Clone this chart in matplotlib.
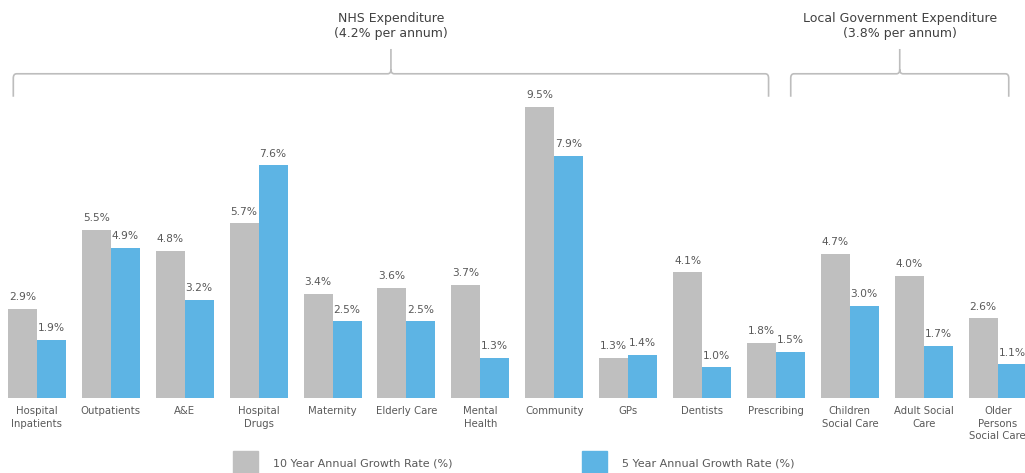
import matplotlib.pyplot as plt
from matplotlib.patches import Rectangle
from matplotlib.path import Path
from matplotlib.patches import PathPatch
import numpy as np

# chart data
categories = ["Hospital\nInpatients", "Outpatients", "A&E", "Hospital\nDrugs",
              "Maternity", "Elderly Care", "Mental\nHealth", "Community", "GPs",
              "Dentists", "Prescribing", "Children\nSocial Care", "Adult Social\nCare",
              "Older\nPersons\nSocial Care"]
growth10 = [2.9, 5.5, 4.8, 5.7, 3.4, 3.6, 3.7, 9.5, 1.3, 4.1, 1.8, 4.7, 4.0, 2.6]
growth5 = [1.9, 4.9, 3.2, 7.6, 2.5, 2.5, 1.3, 7.9, 1.4, 1.0, 1.5, 3.0, 1.7, 1.1]
series_names = ["10 Year Annual Growth Rate (%)", "5 Year Annual Growth Rate (%)"]
groups = [("NHS Expenditure\n(4.2% per annum)", -0.32, 9.9),
          ("Local Government Expenditure\n(3.8% per annum)", 10.2, 13.15)]

GREY = "#BFBFBF"
BLUE = "#5DB4E4"
TXT = "#595959"
BRACE = "#BDBDBD"

W, H = 1025, 473
fig = plt.figure(figsize=(W / 100, H / 100), dpi=100)
ax = fig.add_axes([0, 75 / H, 1, 398 / H])
ax.set_xlim(-0.5, 13.37)
ax.set_ylim(0, 13.0)

x = np.arange(len(categories))
bw = 0.392
ax.bar(x - bw / 2, growth10, bw, color=GREY)
ax.bar(x + bw / 2, growth5, bw, color=BLUE)

for xi, a, b in zip(x, growth10, growth5):
    ax.text(xi - bw / 2, a + 0.22, f"{a:.1f}%", ha="center", va="bottom",
            fontsize=7.7, color=TXT)
    ax.text(xi + bw / 2, b + 0.22, f"{b:.1f}%", ha="center", va="bottom",
            fontsize=7.7, color=TXT)

ax.set_xticks(x)
ax.set_xticklabels(categories, fontsize=7.3, color=TXT, linespacing=1.3)
ax.tick_params(axis="x", length=0, pad=6)
ax.set_yticks([])
for s in ax.spines.values():
    s.set_visible(False)


# curly brackets over the groups
def brace(x0, x1, ybar=10.59, yend=9.84, ytip=11.4):
    xm = (x0 + x1) / 2
    r = 0.045
    ry = 0.14
    verts = [(x0, yend), (x0, ybar - ry), (x0, ybar), (x0 + r, ybar),
             (xm - r, ybar), (xm, ybar), (xm, ybar + ry),
             (xm, ytip),
             (xm, ybar + ry), (xm, ybar), (xm + r, ybar),
             (x1 - r, ybar), (x1, ybar), (x1, ybar - ry), (x1, yend)]
    codes = [Path.MOVETO, Path.LINETO, Path.CURVE3, Path.CURVE3,
             Path.LINETO, Path.CURVE3, Path.CURVE3,
             Path.LINETO,
             Path.MOVETO, Path.CURVE3, Path.CURVE3,
             Path.LINETO, Path.CURVE3, Path.CURVE3, Path.LINETO]
    ax.add_patch(PathPatch(Path(verts, codes), fill=False, edgecolor=BRACE,
                           lw=1.2, clip_on=False))
    return xm


for label, x0, x1 in groups:
    xm = brace(x0, x1)
    ax.text(xm, 12.15, label, ha="center", va="center", fontsize=9,
            color="#404040", linespacing=1.2)

# legend at the bottom
for i, (name, col) in enumerate(zip(series_names, [GREY, BLUE])):
    lx = [233, 582][i]
    fig.patches.append(Rectangle((lx / W, -0.02), 25 / W, 22 / H + 0.02,
                                 transform=fig.transFigure, color=col))
    fig.text((lx + 40) / W, 10 / H, name, fontsize=8, color=TXT, va="center")

fig.savefig("out.png", dpi=100)
